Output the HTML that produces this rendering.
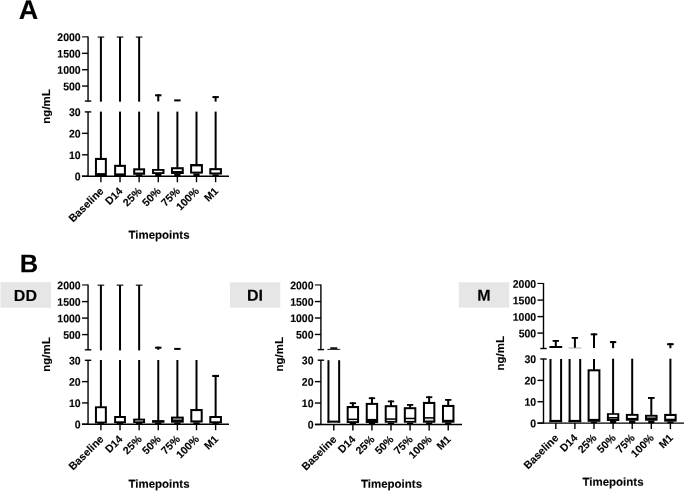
<!DOCTYPE html>
<html><head><meta charset="utf-8"><title>Figure</title>
<style>
html,body{margin:0;padding:0;background:#fff;}
body{width:685px;height:491px;overflow:hidden;}
svg{display:block;will-change:transform;}
text{font-family:"Liberation Sans",sans-serif;font-weight:bold;fill:#000;stroke:#000;stroke-width:0.12px;}
</style></head><body>
<svg width="685" height="491" viewBox="0 0 685 491">
<line x1="88.05" y1="36.45" x2="88.05" y2="101.10" stroke="#000" stroke-width="1.4"/>
<line x1="84.85" y1="101.10" x2="91.25" y2="101.10" stroke="#000" stroke-width="1.4"/>
<line x1="82.05" y1="36.85" x2="88.05" y2="36.85" stroke="#000" stroke-width="1.1"/>
<text font-size="11" text-anchor="end" transform="translate(80.70 41.10) rotate(0.03) scale(0.955 1)">2000</text>
<line x1="82.05" y1="53.35" x2="88.05" y2="53.35" stroke="#000" stroke-width="1.4"/>
<text font-size="11" text-anchor="end" transform="translate(80.70 57.45) rotate(0.03) scale(0.955 1)">1500</text>
<line x1="82.05" y1="69.70" x2="88.05" y2="69.70" stroke="#000" stroke-width="1.4"/>
<text font-size="11" text-anchor="end" transform="translate(80.70 73.80) rotate(0.03) scale(0.955 1)">1000</text>
<line x1="82.05" y1="86.05" x2="88.05" y2="86.05" stroke="#000" stroke-width="1.4"/>
<text font-size="11" text-anchor="end" transform="translate(80.70 90.15) rotate(0.03) scale(0.955 1)">500</text>
<line x1="88.05" y1="111.90" x2="88.05" y2="176.25" stroke="#000" stroke-width="1.4"/>
<line x1="84.85" y1="111.90" x2="91.25" y2="111.90" stroke="#000" stroke-width="1.4"/>
<text font-size="11" text-anchor="end" transform="translate(80.70 116.00) rotate(0.03) scale(0.955 1)">30</text>
<line x1="82.05" y1="133.35" x2="88.05" y2="133.35" stroke="#000" stroke-width="1.4"/>
<text font-size="11" text-anchor="end" transform="translate(80.70 137.45) rotate(0.03) scale(0.955 1)">20</text>
<line x1="82.05" y1="154.80" x2="88.05" y2="154.80" stroke="#000" stroke-width="1.4"/>
<text font-size="11" text-anchor="end" transform="translate(80.70 158.90) rotate(0.03) scale(0.955 1)">10</text>
<line x1="82.05" y1="176.25" x2="88.05" y2="176.25" stroke="#000" stroke-width="1.4"/>
<text font-size="11" text-anchor="end" transform="translate(80.70 180.35) rotate(0.03) scale(0.955 1)">0</text>
<line x1="82.05" y1="176.25" x2="229.00" y2="176.25" stroke="#000" stroke-width="1.4"/>
<line x1="100.90" y1="176.25" x2="100.90" y2="182.25" stroke="#000" stroke-width="1.4"/>
<line x1="120.02" y1="176.25" x2="120.02" y2="182.25" stroke="#000" stroke-width="1.4"/>
<line x1="139.14" y1="176.25" x2="139.14" y2="182.25" stroke="#000" stroke-width="1.4"/>
<line x1="158.26" y1="176.25" x2="158.26" y2="182.25" stroke="#000" stroke-width="1.4"/>
<line x1="177.38" y1="176.25" x2="177.38" y2="182.25" stroke="#000" stroke-width="1.4"/>
<line x1="196.50" y1="176.25" x2="196.50" y2="182.25" stroke="#000" stroke-width="1.4"/>
<line x1="215.62" y1="176.25" x2="215.62" y2="182.25" stroke="#000" stroke-width="1.4"/>
<text font-size="10.7" text-anchor="end" transform="translate(104.20 191.75) rotate(-45) scale(1.0 1)">Baseline</text>
<text font-size="10.7" text-anchor="end" transform="translate(123.32 191.75) rotate(-45) scale(1.0 1)">D14</text>
<text font-size="10.7" text-anchor="end" transform="translate(142.44 191.75) rotate(-45) scale(1.0 1)">25%</text>
<text font-size="10.7" text-anchor="end" transform="translate(161.56 191.75) rotate(-45) scale(1.0 1)">50%</text>
<text font-size="10.7" text-anchor="end" transform="translate(180.68 191.75) rotate(-45) scale(1.0 1)">75%</text>
<text font-size="10.7" text-anchor="end" transform="translate(199.80 191.75) rotate(-45) scale(1.0 1)">100%</text>
<text font-size="10.7" text-anchor="end" transform="translate(218.92 191.75) rotate(-45) scale(1.0 1)">M1</text>
<rect x="99.90" y="37.00" width="2.00" height="64.70" fill="#000"/>
<rect x="97.60" y="36.50" width="6.60" height="1.10" fill="#000"/>
<rect x="119.02" y="37.00" width="2.00" height="64.70" fill="#000"/>
<rect x="116.72" y="36.50" width="6.60" height="1.10" fill="#000"/>
<rect x="138.14" y="37.00" width="2.00" height="64.70" fill="#000"/>
<rect x="135.84" y="36.50" width="6.60" height="1.10" fill="#000"/>
<rect x="155.06" y="94.30" width="6.40" height="2.00" fill="#000"/>
<rect x="157.26" y="94.30" width="2.00" height="7.10" fill="#000"/>
<rect x="174.18" y="99.40" width="6.40" height="2.00" fill="#000"/>
<rect x="212.42" y="96.10" width="6.40" height="2.00" fill="#000"/>
<rect x="214.62" y="96.10" width="2.00" height="5.50" fill="#000"/>
<rect x="99.90" y="111.60" width="2.00" height="46.80" fill="#000"/>
<rect x="119.02" y="111.60" width="2.00" height="53.70" fill="#000"/>
<rect x="138.14" y="111.60" width="2.00" height="57.20" fill="#000"/>
<rect x="157.26" y="111.60" width="2.00" height="57.90" fill="#000"/>
<rect x="176.38" y="111.60" width="2.00" height="56.10" fill="#000"/>
<rect x="195.50" y="111.60" width="2.00" height="52.90" fill="#000"/>
<rect x="214.62" y="111.60" width="2.00" height="57.00" fill="#000"/>
<rect x="94.95" y="157.90" width="11.90" height="18.30" fill="#000"/>
<rect x="96.95" y="160.00" width="7.90" height="13.10" fill="#fff"/>
<rect x="114.12" y="164.80" width="11.80" height="11.40" fill="#000"/>
<rect x="116.12" y="166.90" width="7.80" height="6.50" fill="#fff"/>
<rect x="133.19" y="168.30" width="11.90" height="6.50" fill="#000"/>
<rect x="135.19" y="170.40" width="7.90" height="2.10" fill="#fff"/>
<rect x="136.04" y="174.60" width="6.20" height="1.85" fill="#000"/>
<rect x="152.06" y="169.00" width="12.40" height="5.00" fill="#000"/>
<rect x="154.06" y="170.80" width="8.40" height="1.40" fill="#fff"/>
<rect x="155.16" y="173.80" width="6.20" height="2.65" fill="#000"/>
<rect x="170.98" y="167.20" width="12.80" height="6.80" fill="#000"/>
<rect x="172.98" y="169.30" width="8.80" height="1.70" fill="#fff"/>
<rect x="174.28" y="173.80" width="6.20" height="2.65" fill="#000"/>
<rect x="190.10" y="164.00" width="12.80" height="9.60" fill="#000"/>
<rect x="192.10" y="166.40" width="8.80" height="5.20" fill="#fff"/>
<rect x="193.40" y="173.40" width="6.20" height="3.05" fill="#000"/>
<rect x="209.32" y="168.10" width="12.60" height="6.40" fill="#000"/>
<rect x="211.32" y="170.20" width="8.60" height="2.30" fill="#fff"/>
<rect x="212.52" y="174.30" width="6.20" height="2.15" fill="#000"/>
<text font-size="11.5" text-anchor="middle" transform="translate(159.00 238.80) rotate(0.03) scale(1.0 1)">Timepoints</text>
<text font-size="11.5" text-anchor="middle" transform="translate(50.30 106.40) rotate(-90) scale(1.0 1)">ng/mL</text>
<text font-size="27" text-anchor="start" transform="translate(18.80 19.00) rotate(0.03) scale(1.0 1)">A</text>
<line x1="88.05" y1="284.55" x2="88.05" y2="349.80" stroke="#000" stroke-width="1.4"/>
<line x1="84.85" y1="349.80" x2="91.25" y2="349.80" stroke="#000" stroke-width="1.4"/>
<line x1="82.05" y1="284.95" x2="88.05" y2="284.95" stroke="#000" stroke-width="1.1"/>
<text font-size="11" text-anchor="end" transform="translate(80.70 289.20) rotate(0.03) scale(0.955 1)">2000</text>
<line x1="82.05" y1="301.60" x2="88.05" y2="301.60" stroke="#000" stroke-width="1.4"/>
<text font-size="11" text-anchor="end" transform="translate(80.70 305.70) rotate(0.03) scale(0.955 1)">1500</text>
<line x1="82.05" y1="318.10" x2="88.05" y2="318.10" stroke="#000" stroke-width="1.4"/>
<text font-size="11" text-anchor="end" transform="translate(80.70 322.20) rotate(0.03) scale(0.955 1)">1000</text>
<line x1="82.05" y1="334.60" x2="88.05" y2="334.60" stroke="#000" stroke-width="1.4"/>
<text font-size="11" text-anchor="end" transform="translate(80.70 338.70) rotate(0.03) scale(0.955 1)">500</text>
<line x1="88.05" y1="360.30" x2="88.05" y2="424.25" stroke="#000" stroke-width="1.4"/>
<line x1="84.85" y1="360.30" x2="91.25" y2="360.30" stroke="#000" stroke-width="1.4"/>
<text font-size="11" text-anchor="end" transform="translate(80.70 364.40) rotate(0.03) scale(0.955 1)">30</text>
<line x1="82.05" y1="381.62" x2="88.05" y2="381.62" stroke="#000" stroke-width="1.4"/>
<text font-size="11" text-anchor="end" transform="translate(80.70 385.72) rotate(0.03) scale(0.955 1)">20</text>
<line x1="82.05" y1="402.93" x2="88.05" y2="402.93" stroke="#000" stroke-width="1.4"/>
<text font-size="11" text-anchor="end" transform="translate(80.70 407.03) rotate(0.03) scale(0.955 1)">10</text>
<line x1="82.05" y1="424.25" x2="88.05" y2="424.25" stroke="#000" stroke-width="1.4"/>
<text font-size="11" text-anchor="end" transform="translate(80.70 428.35) rotate(0.03) scale(0.955 1)">0</text>
<line x1="82.05" y1="424.25" x2="229.00" y2="424.25" stroke="#000" stroke-width="1.4"/>
<line x1="100.90" y1="424.25" x2="100.90" y2="430.25" stroke="#000" stroke-width="1.4"/>
<line x1="120.02" y1="424.25" x2="120.02" y2="430.25" stroke="#000" stroke-width="1.4"/>
<line x1="139.14" y1="424.25" x2="139.14" y2="430.25" stroke="#000" stroke-width="1.4"/>
<line x1="158.26" y1="424.25" x2="158.26" y2="430.25" stroke="#000" stroke-width="1.4"/>
<line x1="177.38" y1="424.25" x2="177.38" y2="430.25" stroke="#000" stroke-width="1.4"/>
<line x1="196.50" y1="424.25" x2="196.50" y2="430.25" stroke="#000" stroke-width="1.4"/>
<line x1="215.62" y1="424.25" x2="215.62" y2="430.25" stroke="#000" stroke-width="1.4"/>
<text font-size="10.7" text-anchor="end" transform="translate(104.20 439.75) rotate(-45) scale(1.0 1)">Baseline</text>
<text font-size="10.7" text-anchor="end" transform="translate(123.32 439.75) rotate(-45) scale(1.0 1)">D14</text>
<text font-size="10.7" text-anchor="end" transform="translate(142.44 439.75) rotate(-45) scale(1.0 1)">25%</text>
<text font-size="10.7" text-anchor="end" transform="translate(161.56 439.75) rotate(-45) scale(1.0 1)">50%</text>
<text font-size="10.7" text-anchor="end" transform="translate(180.68 439.75) rotate(-45) scale(1.0 1)">75%</text>
<text font-size="10.7" text-anchor="end" transform="translate(199.80 439.75) rotate(-45) scale(1.0 1)">100%</text>
<text font-size="10.7" text-anchor="end" transform="translate(218.92 439.75) rotate(-45) scale(1.0 1)">M1</text>
<rect x="99.90" y="285.10" width="2.00" height="65.30" fill="#000"/>
<rect x="97.60" y="284.60" width="6.60" height="1.10" fill="#000"/>
<rect x="119.02" y="285.10" width="2.00" height="65.30" fill="#000"/>
<rect x="116.72" y="284.60" width="6.60" height="1.10" fill="#000"/>
<rect x="138.14" y="285.10" width="2.00" height="65.30" fill="#000"/>
<rect x="135.84" y="284.60" width="6.60" height="1.10" fill="#000"/>
<rect x="155.06" y="346.70" width="6.40" height="2.00" fill="#000"/>
<rect x="157.26" y="346.70" width="2.00" height="3.10" fill="#000"/>
<rect x="174.18" y="347.90" width="6.40" height="2.00" fill="#000"/>
<rect x="99.90" y="360.00" width="2.00" height="46.80" fill="#000"/>
<rect x="119.02" y="360.00" width="2.00" height="56.50" fill="#000"/>
<rect x="138.14" y="360.00" width="2.00" height="59.10" fill="#000"/>
<rect x="157.26" y="360.00" width="2.00" height="60.60" fill="#000"/>
<rect x="176.38" y="360.00" width="2.00" height="57.10" fill="#000"/>
<rect x="195.50" y="360.00" width="2.00" height="49.50" fill="#000"/>
<rect x="214.62" y="375.00" width="2.00" height="41.50" fill="#000"/>
<rect x="212.22" y="374.90" width="6.80" height="2.10" fill="#000"/>
<rect x="94.95" y="406.30" width="11.90" height="17.10" fill="#000"/>
<rect x="96.95" y="408.20" width="7.90" height="13.40" fill="#fff"/>
<rect x="97.80" y="423.20" width="6.20" height="1.25" fill="#000"/>
<rect x="114.12" y="416.00" width="11.80" height="7.20" fill="#000"/>
<rect x="116.12" y="418.00" width="7.80" height="3.30" fill="#fff"/>
<rect x="116.92" y="423.00" width="6.20" height="1.45" fill="#000"/>
<rect x="133.19" y="418.60" width="11.90" height="4.40" fill="#000"/>
<rect x="135.19" y="420.10" width="7.90" height="1.50" fill="#888"/>
<rect x="136.04" y="422.80" width="6.20" height="1.65" fill="#000"/>
<rect x="152.06" y="420.10" width="12.40" height="2.70" fill="#000"/>
<rect x="155.16" y="422.60" width="6.20" height="1.85" fill="#000"/>
<rect x="170.98" y="416.60" width="12.80" height="6.10" fill="#000"/>
<rect x="172.98" y="418.40" width="8.80" height="1.40" fill="#999"/>
<rect x="174.28" y="422.50" width="6.20" height="1.95" fill="#000"/>
<rect x="190.30" y="409.00" width="12.40" height="13.50" fill="#000"/>
<rect x="192.30" y="411.10" width="8.40" height="9.30" fill="#fff"/>
<rect x="193.40" y="422.30" width="6.20" height="2.15" fill="#000"/>
<rect x="209.32" y="416.00" width="12.60" height="7.30" fill="#000"/>
<rect x="211.32" y="418.00" width="8.60" height="3.30" fill="#fff"/>
<rect x="212.52" y="423.10" width="6.20" height="1.35" fill="#000"/>
<text font-size="11.5" text-anchor="middle" transform="translate(159.00 487.80) rotate(0.03) scale(1.0 1)">Timepoints</text>
<text font-size="11.5" text-anchor="middle" transform="translate(50.30 354.50) rotate(-90) scale(1.0 1)">ng/mL</text>
<text font-size="25.5" text-anchor="start" transform="translate(19.80 272.30) rotate(0.03) scale(1.0 1)">B</text>
<rect x="0.50" y="282.20" width="50.50" height="25.50" fill="#e6e6e6"/>
<text font-size="16" text-anchor="middle" transform="translate(25.40 300.90) rotate(0.03) scale(1.0 1)">DD</text>
<line x1="320.90" y1="284.55" x2="320.90" y2="349.60" stroke="#000" stroke-width="1.4"/>
<line x1="317.70" y1="349.60" x2="324.10" y2="349.60" stroke="#000" stroke-width="1.4"/>
<line x1="314.90" y1="284.95" x2="320.90" y2="284.95" stroke="#000" stroke-width="1.1"/>
<text font-size="11" text-anchor="end" transform="translate(313.55 289.20) rotate(0.03) scale(0.955 1)">2000</text>
<line x1="314.90" y1="301.55" x2="320.90" y2="301.55" stroke="#000" stroke-width="1.4"/>
<text font-size="11" text-anchor="end" transform="translate(313.55 305.65) rotate(0.03) scale(0.955 1)">1500</text>
<line x1="314.90" y1="318.00" x2="320.90" y2="318.00" stroke="#000" stroke-width="1.4"/>
<text font-size="11" text-anchor="end" transform="translate(313.55 322.10) rotate(0.03) scale(0.955 1)">1000</text>
<line x1="314.90" y1="334.45" x2="320.90" y2="334.45" stroke="#000" stroke-width="1.4"/>
<text font-size="11" text-anchor="end" transform="translate(313.55 338.55) rotate(0.03) scale(0.955 1)">500</text>
<line x1="320.90" y1="360.20" x2="320.90" y2="424.45" stroke="#000" stroke-width="1.4"/>
<line x1="317.70" y1="360.20" x2="324.10" y2="360.20" stroke="#000" stroke-width="1.4"/>
<text font-size="11" text-anchor="end" transform="translate(313.55 364.30) rotate(0.03) scale(0.955 1)">30</text>
<line x1="314.90" y1="381.62" x2="320.90" y2="381.62" stroke="#000" stroke-width="1.4"/>
<text font-size="11" text-anchor="end" transform="translate(313.55 385.72) rotate(0.03) scale(0.955 1)">20</text>
<line x1="314.90" y1="403.03" x2="320.90" y2="403.03" stroke="#000" stroke-width="1.4"/>
<text font-size="11" text-anchor="end" transform="translate(313.55 407.13) rotate(0.03) scale(0.955 1)">10</text>
<line x1="314.90" y1="424.45" x2="320.90" y2="424.45" stroke="#000" stroke-width="1.4"/>
<text font-size="11" text-anchor="end" transform="translate(313.55 428.55) rotate(0.03) scale(0.955 1)">0</text>
<line x1="314.90" y1="424.45" x2="462.00" y2="424.45" stroke="#000" stroke-width="1.4"/>
<line x1="333.80" y1="424.45" x2="333.80" y2="430.45" stroke="#000" stroke-width="1.4"/>
<line x1="352.87" y1="424.45" x2="352.87" y2="430.45" stroke="#000" stroke-width="1.4"/>
<line x1="371.94" y1="424.45" x2="371.94" y2="430.45" stroke="#000" stroke-width="1.4"/>
<line x1="391.01" y1="424.45" x2="391.01" y2="430.45" stroke="#000" stroke-width="1.4"/>
<line x1="410.08" y1="424.45" x2="410.08" y2="430.45" stroke="#000" stroke-width="1.4"/>
<line x1="429.15" y1="424.45" x2="429.15" y2="430.45" stroke="#000" stroke-width="1.4"/>
<line x1="448.22" y1="424.45" x2="448.22" y2="430.45" stroke="#000" stroke-width="1.4"/>
<text font-size="10.7" text-anchor="end" transform="translate(337.10 439.95) rotate(-45) scale(1.0 1)">Baseline</text>
<text font-size="10.7" text-anchor="end" transform="translate(356.17 439.95) rotate(-45) scale(1.0 1)">D14</text>
<text font-size="10.7" text-anchor="end" transform="translate(375.24 439.95) rotate(-45) scale(1.0 1)">25%</text>
<text font-size="10.7" text-anchor="end" transform="translate(394.31 439.95) rotate(-45) scale(1.0 1)">50%</text>
<text font-size="10.7" text-anchor="end" transform="translate(413.38 439.95) rotate(-45) scale(1.0 1)">75%</text>
<text font-size="10.7" text-anchor="end" transform="translate(432.45 439.95) rotate(-45) scale(1.0 1)">100%</text>
<text font-size="10.7" text-anchor="end" transform="translate(451.52 439.95) rotate(-45) scale(1.0 1)">M1</text>
<rect x="327.40" y="348.90" width="12.80" height="0.90" fill="#000"/>
<rect x="330.30" y="347.30" width="7.00" height="1.60" fill="#000"/>
<rect x="327.45" y="360.20" width="2.00" height="62.40" fill="#000"/>
<rect x="338.15" y="360.20" width="2.00" height="62.40" fill="#000"/>
<rect x="327.40" y="420.60" width="12.80" height="2.10" fill="#000"/>
<rect x="349.72" y="402.30" width="6.30" height="1.80" fill="#000"/>
<rect x="351.87" y="402.30" width="2.00" height="4.20" fill="#000"/>
<rect x="346.67" y="406.00" width="12.40" height="17.00" fill="#000"/>
<rect x="348.67" y="408.10" width="8.40" height="10.50" fill="#fff"/>
<rect x="348.67" y="420.00" width="8.40" height="1.20" fill="#ddd"/>
<rect x="349.77" y="422.80" width="6.20" height="1.85" fill="#000"/>
<rect x="368.79" y="397.30" width="6.30" height="1.80" fill="#000"/>
<rect x="370.94" y="397.30" width="2.00" height="6.10" fill="#000"/>
<rect x="365.74" y="402.90" width="12.40" height="20.10" fill="#000"/>
<rect x="367.74" y="404.90" width="8.40" height="14.00" fill="#fff"/>
<rect x="368.84" y="422.80" width="6.20" height="1.85" fill="#000"/>
<rect x="387.86" y="400.50" width="6.30" height="1.80" fill="#000"/>
<rect x="390.01" y="400.50" width="2.00" height="5.20" fill="#000"/>
<rect x="384.71" y="405.20" width="12.60" height="17.50" fill="#000"/>
<rect x="386.71" y="407.20" width="8.60" height="11.10" fill="#fff"/>
<rect x="386.71" y="419.80" width="8.60" height="1.20" fill="#ddd"/>
<rect x="387.91" y="422.50" width="6.20" height="2.15" fill="#000"/>
<rect x="406.93" y="404.00" width="6.30" height="1.80" fill="#000"/>
<rect x="409.08" y="404.00" width="2.00" height="3.70" fill="#000"/>
<rect x="403.83" y="407.20" width="12.50" height="15.50" fill="#000"/>
<rect x="405.83" y="409.20" width="8.50" height="8.50" fill="#fff"/>
<rect x="405.83" y="419.10" width="8.50" height="1.90" fill="#ddd"/>
<rect x="406.98" y="422.50" width="6.20" height="2.15" fill="#000"/>
<rect x="426.00" y="396.30" width="6.30" height="1.80" fill="#000"/>
<rect x="428.15" y="396.30" width="2.00" height="6.10" fill="#000"/>
<rect x="422.95" y="401.90" width="12.40" height="20.80" fill="#000"/>
<rect x="424.95" y="404.00" width="8.40" height="13.10" fill="#fff"/>
<rect x="424.95" y="418.60" width="8.40" height="2.00" fill="#ddd"/>
<rect x="426.05" y="422.50" width="6.20" height="2.15" fill="#000"/>
<rect x="445.07" y="399.00" width="6.30" height="1.80" fill="#000"/>
<rect x="447.22" y="399.00" width="2.00" height="6.40" fill="#000"/>
<rect x="441.97" y="404.90" width="12.50" height="17.80" fill="#000"/>
<rect x="443.97" y="407.00" width="8.50" height="12.80" fill="#fff"/>
<rect x="445.12" y="422.50" width="6.20" height="2.15" fill="#000"/>
<text font-size="11.5" text-anchor="middle" transform="translate(391.50 487.80) rotate(0.03) scale(1.0 1)">Timepoints</text>
<text font-size="11.5" text-anchor="middle" transform="translate(282.70 354.30) rotate(-90) scale(1.0 1)">ng/mL</text>
<rect x="229.90" y="282.30" width="50.40" height="25.30" fill="#e6e6e6"/>
<text font-size="16" text-anchor="middle" transform="translate(255.00 300.70) rotate(0.03) scale(1.0 1)">DI</text>
<line x1="543.50" y1="283.05" x2="543.50" y2="348.50" stroke="#000" stroke-width="1.4"/>
<line x1="540.30" y1="348.50" x2="546.70" y2="348.50" stroke="#000" stroke-width="1.4"/>
<line x1="537.50" y1="283.45" x2="543.50" y2="283.45" stroke="#000" stroke-width="1.1"/>
<text font-size="11" text-anchor="end" transform="translate(536.15 287.70) rotate(0.03) scale(0.955 1)">2000</text>
<line x1="537.50" y1="300.10" x2="543.50" y2="300.10" stroke="#000" stroke-width="1.4"/>
<text font-size="11" text-anchor="end" transform="translate(536.15 304.20) rotate(0.03) scale(0.955 1)">1500</text>
<line x1="537.50" y1="316.60" x2="543.50" y2="316.60" stroke="#000" stroke-width="1.4"/>
<text font-size="11" text-anchor="end" transform="translate(536.15 320.70) rotate(0.03) scale(0.955 1)">1000</text>
<line x1="537.50" y1="333.10" x2="543.50" y2="333.10" stroke="#000" stroke-width="1.4"/>
<text font-size="11" text-anchor="end" transform="translate(536.15 337.20) rotate(0.03) scale(0.955 1)">500</text>
<line x1="543.50" y1="359.00" x2="543.50" y2="423.10" stroke="#000" stroke-width="1.4"/>
<line x1="540.30" y1="359.00" x2="546.70" y2="359.00" stroke="#000" stroke-width="1.4"/>
<text font-size="11" text-anchor="end" transform="translate(536.15 363.10) rotate(0.03) scale(0.955 1)">30</text>
<line x1="537.50" y1="380.37" x2="543.50" y2="380.37" stroke="#000" stroke-width="1.4"/>
<text font-size="11" text-anchor="end" transform="translate(536.15 384.47) rotate(0.03) scale(0.955 1)">20</text>
<line x1="537.50" y1="401.73" x2="543.50" y2="401.73" stroke="#000" stroke-width="1.4"/>
<text font-size="11" text-anchor="end" transform="translate(536.15 405.83) rotate(0.03) scale(0.955 1)">10</text>
<line x1="537.50" y1="423.10" x2="543.50" y2="423.10" stroke="#000" stroke-width="1.4"/>
<text font-size="11" text-anchor="end" transform="translate(536.15 427.20) rotate(0.03) scale(0.955 1)">0</text>
<line x1="537.50" y1="423.10" x2="684.00" y2="423.10" stroke="#000" stroke-width="1.4"/>
<line x1="555.80" y1="423.10" x2="555.80" y2="429.10" stroke="#000" stroke-width="1.4"/>
<line x1="574.90" y1="423.10" x2="574.90" y2="429.10" stroke="#000" stroke-width="1.4"/>
<line x1="594.00" y1="423.10" x2="594.00" y2="429.10" stroke="#000" stroke-width="1.4"/>
<line x1="613.10" y1="423.10" x2="613.10" y2="429.10" stroke="#000" stroke-width="1.4"/>
<line x1="632.20" y1="423.10" x2="632.20" y2="429.10" stroke="#000" stroke-width="1.4"/>
<line x1="651.30" y1="423.10" x2="651.30" y2="429.10" stroke="#000" stroke-width="1.4"/>
<line x1="670.40" y1="423.10" x2="670.40" y2="429.10" stroke="#000" stroke-width="1.4"/>
<text font-size="10.7" text-anchor="end" transform="translate(559.10 438.60) rotate(-45) scale(1.0 1)">Baseline</text>
<text font-size="10.7" text-anchor="end" transform="translate(578.20 438.60) rotate(-45) scale(1.0 1)">D14</text>
<text font-size="10.7" text-anchor="end" transform="translate(597.30 438.60) rotate(-45) scale(1.0 1)">25%</text>
<text font-size="10.7" text-anchor="end" transform="translate(616.40 438.60) rotate(-45) scale(1.0 1)">50%</text>
<text font-size="10.7" text-anchor="end" transform="translate(635.50 438.60) rotate(-45) scale(1.0 1)">75%</text>
<text font-size="10.7" text-anchor="end" transform="translate(654.60 438.60) rotate(-45) scale(1.0 1)">100%</text>
<text font-size="10.7" text-anchor="end" transform="translate(673.70 438.60) rotate(-45) scale(1.0 1)">M1</text>
<rect x="552.60" y="340.00" width="6.40" height="1.80" fill="#000"/>
<rect x="554.80" y="340.00" width="2.00" height="7.00" fill="#000"/>
<rect x="549.40" y="346.00" width="12.80" height="2.00" fill="#000"/>
<rect x="549.50" y="359.00" width="2.00" height="63.20" fill="#000"/>
<rect x="560.10" y="359.00" width="2.00" height="63.20" fill="#000"/>
<rect x="549.50" y="419.90" width="12.60" height="2.30" fill="#000"/>
<rect x="571.70" y="337.00" width="6.40" height="1.80" fill="#000"/>
<rect x="573.90" y="337.00" width="2.00" height="11.00" fill="#000"/>
<rect x="568.60" y="347.60" width="12.60" height="0.80" fill="#999"/>
<rect x="568.60" y="359.00" width="2.00" height="63.20" fill="#000"/>
<rect x="579.20" y="359.00" width="2.00" height="63.20" fill="#000"/>
<rect x="568.60" y="419.90" width="12.60" height="2.30" fill="#000"/>
<rect x="590.75" y="333.40" width="6.50" height="1.90" fill="#000"/>
<rect x="593.00" y="333.40" width="2.00" height="14.70" fill="#000"/>
<rect x="593.00" y="359.00" width="2.00" height="11.00" fill="#000"/>
<rect x="587.60" y="369.30" width="12.80" height="52.50" fill="#000"/>
<rect x="589.60" y="371.30" width="8.80" height="47.60" fill="#fff"/>
<rect x="591.00" y="421.60" width="6.00" height="1.70" fill="#000"/>
<rect x="609.95" y="341.10" width="6.30" height="2.00" fill="#000"/>
<rect x="612.10" y="341.10" width="2.00" height="7.10" fill="#000"/>
<rect x="667.10" y="343.20" width="6.60" height="2.00" fill="#000"/>
<rect x="669.40" y="343.20" width="2.00" height="5.00" fill="#000"/>
<rect x="612.10" y="358.70" width="2.00" height="55.80" fill="#000"/>
<rect x="631.20" y="358.70" width="2.00" height="55.80" fill="#000"/>
<rect x="669.40" y="358.70" width="2.00" height="55.80" fill="#000"/>
<rect x="648.00" y="397.00" width="6.60" height="1.90" fill="#000"/>
<rect x="650.30" y="397.00" width="2.00" height="18.00" fill="#000"/>
<rect x="606.90" y="413.20" width="12.40" height="7.80" fill="#000"/>
<rect x="608.90" y="414.80" width="8.40" height="2.20" fill="#fff"/>
<rect x="610.00" y="420.80" width="6.20" height="2.50" fill="#000"/>
<rect x="625.85" y="413.90" width="12.70" height="6.80" fill="#000"/>
<rect x="627.85" y="415.80" width="8.70" height="2.10" fill="#fff"/>
<rect x="629.10" y="420.50" width="6.20" height="2.80" fill="#000"/>
<rect x="645.05" y="414.80" width="12.50" height="5.90" fill="#000"/>
<rect x="647.05" y="416.40" width="8.50" height="1.50" fill="#888"/>
<rect x="648.20" y="420.50" width="6.20" height="2.80" fill="#000"/>
<rect x="664.15" y="413.90" width="12.50" height="7.70" fill="#000"/>
<rect x="666.15" y="416.00" width="8.50" height="2.70" fill="#fff"/>
<rect x="667.30" y="421.40" width="6.20" height="1.90" fill="#000"/>
<rect x="608.90" y="418.40" width="8.40" height="0.60" fill="#999"/>
<text font-size="11.5" text-anchor="middle" transform="translate(613.00 485.80) rotate(0.03) scale(1.0 1)">Timepoints</text>
<text font-size="11.5" text-anchor="middle" transform="translate(504.00 353.30) rotate(-90) scale(1.0 1)">ng/mL</text>
<rect x="458.80" y="282.30" width="50.40" height="25.30" fill="#e6e6e6"/>
<text font-size="16" text-anchor="middle" transform="translate(484.00 300.80) rotate(0.03) scale(1.0 1)">M</text>
</svg>
</body></html>
